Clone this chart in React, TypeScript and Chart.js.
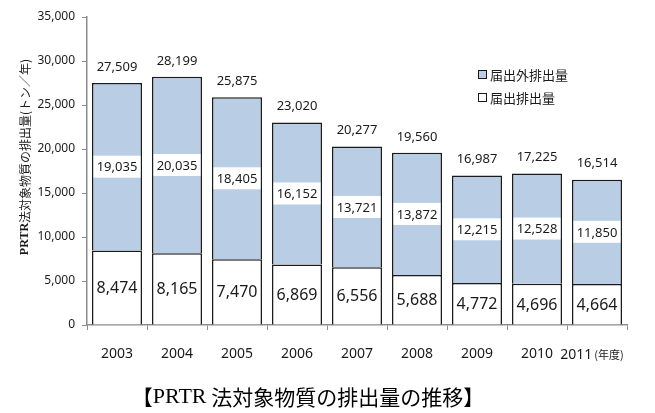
import React, { useEffect, useRef } from "react";
import { Chart, registerables } from "chart.js";

Chart.register(...registerables);

const years = ["2003", "2004", "2005", "2006", "2007", "2008", "2009", "2010", "2011"];
const notified = [8474, 8165, 7470, 6869, 6556, 5688, 4772, 4696, 4664];
const nonNotified = [19035, 20035, 18405, 16152, 13721, 13872, 12215, 12528, 11850];
const totals = [27509, 28199, 25875, 23020, 20277, 19560, 16987, 17225, 16514];
const yTicks = [0, 5000, 10000, 15000, 20000, 25000, 30000, 35000];

const seriesNames = ["届出排出量", "届出外排出量"];
const yTitleParts = ["PRTR", "法対象物質の排出量(トン／年)"];
const titleParts = ["【", "PRTR", " 法対象物質の排出量の推移】"];
const yearUnit = "(年度)";

const SANS = "'Noto Sans', 'Noto Sans CJK JP', sans-serif";
const CJK = "'Noto Sans CJK JP', sans-serif";
const SERIF = "'Liberation Serif', 'DejaVu Serif', serif";
const BLUE = "#b9cde5";
const TEXT = "#1a1a1a";

const fmt = (v: number) => v.toLocaleString("en-US");

const labelsPlugin = {
  id: "customLabels",
  afterDatasetsDraw(chart: any) {
    const ctx = chart.ctx;
    const lower = chart.getDatasetMeta(0).data;
    const upper = chart.getDatasetMeta(1).data;
    ctx.save();
    ctx.textAlign = "center";
    ctx.textBaseline = "middle";
    ctx.fillStyle = TEXT;
    for (let i = 0; i < years.length; i++) {
      const lo = lower[i];
      const up = upper[i];
      ctx.font = `16px ${SANS}`;
      ctx.fillStyle = TEXT;
      ctx.fillText(fmt(notified[i]), lo.x, (lo.y + lo.base) / 2 + 1);
      const cy = (up.y + up.base) / 2;
      const w = up.width;
      ctx.fillStyle = "#ffffff";
      ctx.fillRect(up.x - w / 2 + 1.5, cy - 11, w - 3, 22);
      ctx.fillStyle = TEXT;
      ctx.font = `13px ${SANS}`;
      ctx.fillText(fmt(nonNotified[i]), up.x, cy + 1);
      ctx.font = `13px ${SANS}`;
      ctx.fillText(fmt(totals[i]), up.x, up.y - 16);
    }
    ctx.restore();
  },
  afterDraw(chart: any) {
    const ctx = chart.ctx;
    ctx.save();
    ctx.translate(25, 157);
    ctx.rotate(-Math.PI / 2);
    ctx.textBaseline = "middle";
    ctx.textAlign = "left";
    ctx.fillStyle = TEXT;
    ctx.font = `bold 12px ${SERIF}`;
    const w1 = ctx.measureText(yTitleParts[0]).width;
    ctx.font = `12px ${CJK}`;
    const w2 = ctx.measureText(yTitleParts[1]).width;
    const x0 = -(w1 + w2) / 2;
    ctx.font = `bold 12px ${SERIF}`;
    ctx.fillText(yTitleParts[0], x0, 0);
    ctx.font = `12px ${CJK}`;
    ctx.fillText(yTitleParts[1], x0 + w1, 0);
    ctx.restore();

    ctx.save();
    ctx.textBaseline = "middle";
    ctx.textAlign = "left";
    ctx.fillStyle = "#000";
    const fonts = [`21px ${CJK}`, `22px ${SERIF}`, `21px ${CJK}`];
    const widths = titleParts.map((t, k) => {
      ctx.font = fonts[k];
      return ctx.measureText(t).width;
    });
    const total = widths.reduce((a, b) => a + b, 0);
    let tx = 308 - total / 2;
    titleParts.forEach((t, k) => {
      ctx.font = fonts[k];
      ctx.fillText(t, tx, 397);
      tx += widths[k];
    });
    ctx.restore();

    ctx.save();
    const xs = chart.scales.x;
    const px = xs.getPixelForValue(years.length - 1);
    ctx.textBaseline = "middle";
    ctx.textAlign = "left";
    ctx.fillStyle = TEXT;
    ctx.font = `14px ${SANS}`;
    const yw = ctx.measureText(years[years.length - 1]).width;
    ctx.font = `11px ${CJK}`;
    const uw = ctx.measureText(yearUnit).width;
    const start = px - 5 - (yw + 2 + uw) / 2;
    ctx.font = `14px ${SANS}`;
    ctx.fillText(years[years.length - 1], start, 355);
    ctx.font = `11px ${CJK}`;
    ctx.fillText(yearUnit, start + yw + 2, 355);
    ctx.restore();

    ctx.save();
    const items = [
      { name: seriesNames[1], color: BLUE, y: 75 },
      { name: seriesNames[0], color: "#ffffff", y: 98 },
    ];
    items.forEach((it) => {
      ctx.fillStyle = it.color;
      ctx.fillRect(478.5, it.y - 4.5, 8, 8);
      ctx.strokeStyle = TEXT;
      ctx.lineWidth = 1;
      ctx.strokeRect(478.5, it.y - 4.5, 8, 8);
      ctx.fillStyle = TEXT;
      ctx.font = `13px ${CJK}`;
      ctx.textBaseline = "middle";
      ctx.textAlign = "left";
      ctx.fillText(it.name, 490, it.y);
    });
    ctx.restore();
  },
};

export default function App() {
  const ref = useRef<HTMLCanvasElement | null>(null);
  useEffect(() => {
    if (!ref.current) return;
    const chart = new Chart(ref.current, {
      type: "bar",
      data: {
        labels: years,
        datasets: [
          {
            label: seriesNames[0],
            data: notified,
            backgroundColor: "#ffffff",
            borderColor: TEXT,
            borderWidth: 1.5,
            stack: "s",
          },
          {
            label: seriesNames[1],
            data: nonNotified,
            backgroundColor: BLUE,
            borderColor: TEXT,
            borderWidth: 1.5,
            stack: "s",
          },
        ],
      },
      options: {
        responsive: false,
        animation: false,
        layout: { padding: { left: 0, right: 28, top: 17, bottom: 0 } },
        plugins: {
          legend: { display: false },
          title: { display: false },
          tooltip: { enabled: false },
        },
        datasets: { bar: { barPercentage: 0.833, categoryPercentage: 1 } },
        scales: {
          x: {
            stacked: true,
            afterFit: (s: any) => {
              s.height = 88;
            },
            border: { color: "#8c8c8c", width: 1.5 },
            grid: {
              drawOnChartArea: false,
              drawTicks: true,
              tickLength: 5,
              color: "#8c8c8c",
              offset: true,
            },
            ticks: {
              padding: 16,
              color: TEXT,
              font: { family: SANS, size: 14 },
              callback: (_v: any, i: number) => (i === years.length - 1 ? "" : years[i]),
            },
          },
          y: {
            stacked: true,
            min: 0,
            max: 35000,
            afterFit: (s: any) => {
              s.width = 87;
            },
            afterBuildTicks: (s: any) => {
              s.ticks = yTicks.map((v) => ({ value: v }));
            },
            border: { color: "#8c8c8c", width: 1.5 },
            grid: {
              drawOnChartArea: false,
              drawTicks: true,
              tickLength: 5,
              color: "#8c8c8c",
            },
            ticks: {
              padding: 7,
              color: TEXT,
              font: { family: SANS, size: 12 },
              callback: (v: any) => fmt(Number(v)),
            },
          },
        },
      },
      plugins: [labelsPlugin],
    });
    return () => chart.destroy();
  }, []);
  return (
    <div style={{ position: "fixed", left: 0, top: 0, width: 655, height: 413, background: "#fff" }}>
      <canvas ref={ref} width={655} height={413} style={{ width: 655, height: 413 }} />
    </div>
  );
}
